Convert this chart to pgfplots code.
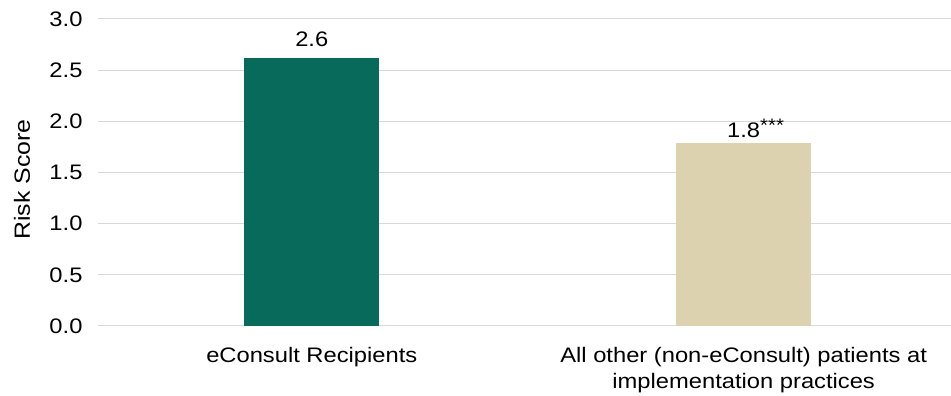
\documentclass[border=0pt]{standalone}
\usepackage{pgfplots}
\pgfplotsset{compat=1.18}
\usepackage{fontspec}
\setmainfont[FakeStretch=1.13]{Liberation Sans}
\definecolor{dgreen}{HTML}{076A5B}
\definecolor{tan}{HTML}{DDD2B0}
\definecolor{gridc}{HTML}{D9D9D9}
\begin{document}
\begin{tikzpicture}
\begin{axis}[
  scale only axis,
  width=853pt, height=307pt,
  xmin=-0.495, xmax=1.48,
  ymin=0, ymax=3,
  ytick={0,0.5,1,1.5,2,2.5,3},
  /pgf/number format/fixed,
  /pgf/number format/fixed zerofill,
  /pgf/number format/precision=1,
  /pgf/number format/assume math mode=true,
  xtick={0,1},
  xticklabels={eConsult Recipients, {All other (non-eConsult) patients at\\implementation practices}},
  xticklabel style={align=center, font=\fontsize{21}{26}\selectfont, text depth=0pt, yshift=-18pt},
  yticklabel style={font=\fontsize{21}{25}\selectfont, xshift=-12pt},
  ylabel={Risk Score},
  ylabel style={font=\fontsize{22}{26}\selectfont, at={(axis description cs:-0.0891,0.477)}, anchor=center},
  axis line style={draw=none},
  major tick length=0pt,
  ymajorgrids,
  grid style={gridc, line width=1pt},
  clip=false,
]
\addplot[ybar, bar width=135pt, fill=dgreen, draw=none] coordinates {(0,2.62)};
\addplot[ybar, bar width=135pt, fill=tan, draw=none] coordinates {(1,1.79)};
\node[font=\fontsize{21}{25}\selectfont, anchor=base] at (axis cs:0,2.62) [yshift=11pt] {2.6};
\node[font=\fontsize{21}{25}\selectfont, anchor=base] at (axis cs:1,1.79) [yshift=5pt] {1.8\makebox[0pt][l]{\raisebox{6pt}{\fontsize{18}{20}\selectfont ***}}};
\coordinate (o) at (rel axis cs:0,0);
\end{axis}
\pgfresetboundingbox
\path (o) ++(-98pt,-70pt) rectangle ++(951pt,396pt);
\end{tikzpicture}
\end{document}
